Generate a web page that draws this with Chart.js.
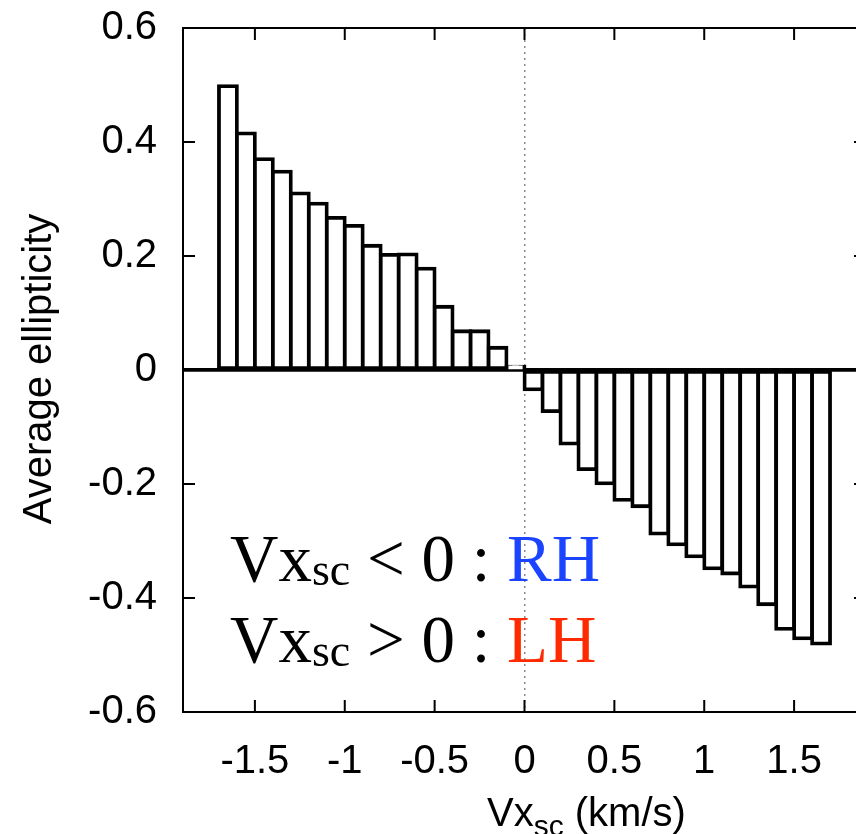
<!DOCTYPE html>
<html>
<head>
<meta charset="utf-8">
<script src="https://cdn.jsdelivr.net/npm/chart.js@4/dist/chart.umd.min.js"></script>
<style>
  html, body { margin: 0; padding: 0; overflow: hidden; background: #fff; }
  canvas { display: block; }
</style>
</head>
<body>
<canvas id="chart" width="880" height="834"></canvas>
<script>
// bin centres (km/s), one bar per 0.1 km/s bin
const binCenters = [
  -1.65, -1.55, -1.45, -1.35, -1.25, -1.15, -1.05, -0.95, -0.85, -0.75, -0.65, -0.55,
  -0.45, -0.35, -0.25, -0.15, -0.05, 0.05, 0.15, 0.25, 0.35, 0.45, 0.55, 0.65,
  0.75, 0.85, 0.95, 1.05, 1.15, 1.25, 1.35, 1.45, 1.55, 1.65
];
const avgEllipticity = [
  0.498, 0.415, 0.370, 0.348, 0.310, 0.292, 0.267, 0.253, 0.218, 0.202, 0.203, 0.178,
  0.111, 0.068, 0.068, 0.039, 0.006, -0.034, -0.072, -0.129, -0.174, -0.199, -0.228, -0.239,
  -0.287, -0.306, -0.327, -0.348, -0.357, -0.380, -0.411, -0.454, -0.471, -0.480
];
const xTickValues = [-1.5, -1, -0.5, 0, 0.5, 1, 1.5];
const xTickLabels = ["-1.5", "-1", "-0.5", "0", "0.5", "1", "1.5"];
const yTickValues = [-0.6, -0.4, -0.2, 0, 0.2, 0.4, 0.6];
const yTickLabels = ["-0.6", "-0.4", "-0.2", "0", "0.2", "0.4", "0.6"];

const SANS = '"Liberation Sans", Arial, Helvetica, sans-serif';
const SERIF = '"Liberation Serif", "Times New Roman", serif';

Chart.defaults.font.family = SANS;
Chart.defaults.color = "#000";

// gnuplot-like frame with inward ticks on all four sides
const framePlugin = {
  id: "frame",
  afterDatasetsDraw (chart) {
    const { ctx, chartArea: a, scales: { x, y } } = chart;
    ctx.save();
    ctx.strokeStyle = "#000";
    ctx.lineWidth = 2;
    ctx.strokeRect(a.left, a.top, a.right - a.left, a.bottom - a.top);
    ctx.beginPath();
    xTickValues.forEach(v => {
      const px = x.getPixelForValue(v);
      ctx.moveTo(px, a.bottom); ctx.lineTo(px, a.bottom - 12);
      ctx.moveTo(px, a.top); ctx.lineTo(px, a.top + 12);
    });
    yTickValues.forEach(v => {
      const py = y.getPixelForValue(v);
      ctx.moveTo(a.left, py); ctx.lineTo(a.left + 12, py);
      ctx.moveTo(a.right, py); ctx.lineTo(a.right - 12, py);
    });
    ctx.stroke();
    ctx.restore();
  }
};

// draws a run of [text, font, color, dy] pieces left to right
function drawPieces (ctx, x, y, pieces) {
  pieces.forEach(([text, font, color, dy]) => {
    ctx.font = font;
    ctx.fillStyle = color;
    ctx.fillText(text, x, y + (dy || 0));
    x += ctx.measureText(text).width;
  });
}

const textPlugin = {
  id: "texts",
  afterDraw (chart) {
    const { ctx } = chart;
    ctx.save();
    ctx.textBaseline = "alphabetic";
    ctx.textAlign = "left";

    const big = "67px " + SERIF;
    const sub = "46px " + SERIF;
    drawPieces(ctx, 230, 581, [
      ["Vx", big, "#000"], ["sc", sub, "#000", 4], [" < 0 : ", big, "#000"], ["RH", big, "#1a44ff"]
    ]);
    drawPieces(ctx, 230, 662, [
      ["Vx", big, "#000"], ["sc", sub, "#000", 4], [" > 0 : ", big, "#000"], ["LH", big, "#ff2a00"]
    ]);

    // x axis title with subscript
    drawPieces(ctx, 487, 826, [
      ["Vx", "40px " + SANS, "#000"], ["sc", "30px " + SANS, "#000", 10], [" (km/s)", "40px " + SANS, "#000"]
    ]);

    // y axis title
    ctx.translate(51, 369);
    ctx.rotate(-Math.PI / 2);
    ctx.textAlign = "center";
    ctx.font = "40px " + SANS;
    ctx.fillStyle = "#000";
    ctx.fillText("Average ellipticity", 0, 0);
    ctx.restore();
  }
};

new Chart(document.getElementById("chart"), {
  type: "bar",
  data: {
    datasets: [{
      data: binCenters.map((x, i) => ({ x, y: avgEllipticity[i] })),
      backgroundColor: "#fff",
      borderColor: "#000",
      borderWidth: 3.8,
      borderSkipped: false,
      inflateAmount: 1.9,
      barPercentage: 1,
      categoryPercentage: 1
    }]
  },
  options: {
    responsive: false,
    animation: false,
    events: [],
    layout: { padding: { top: 28, right: 14, left: 0, bottom: 0 } },
    plugins: { legend: { display: false }, tooltip: { enabled: false } },
    scales: {
      x: {
        type: "linear",
        min: -1.9,
        max: 1.9,
        offset: false,
        afterBuildTicks: s => { s.ticks = xTickValues.map(v => ({ value: v })); },
        afterFit: s => { s.height = 122; s.paddingLeft = 0; s.paddingRight = 0; },
        ticks: {
          autoSkip: false,
          maxRotation: 0,
          padding: 26,
          font: { size: 40 },
          callback: v => xTickLabels[xTickValues.indexOf(v)]
        },
        grid: {
          offset: false,
          drawTicks: false,
          lineWidth: 1.5,
          color: c => (c.tick && c.tick.value === 0 ? "#8a8a8a" : "rgba(0,0,0,0)")
        },
        border: { display: false, dash: [2, 4] }
      },
      y: {
        min: -0.6,
        max: 0.6,
        afterBuildTicks: s => { s.ticks = yTickValues.map(v => ({ value: v })); },
        afterFit: s => { s.width = 183; s.paddingTop = 0; s.paddingBottom = 0; },
        ticks: {
          padding: 26,
          font: { size: 40 },
          callback: v => yTickLabels[yTickValues.indexOf(v)]
        },
        grid: {
          drawTicks: false,
          lineWidth: c => (c.tick && c.tick.value === 0 ? 3.8 : 0),
          color: c => (c.tick && c.tick.value === 0 ? "#000" : "rgba(0,0,0,0)")
        },
        border: { display: false }
      }
    }
  },
  plugins: [framePlugin, textPlugin]
});
</script>
</body>
</html>
